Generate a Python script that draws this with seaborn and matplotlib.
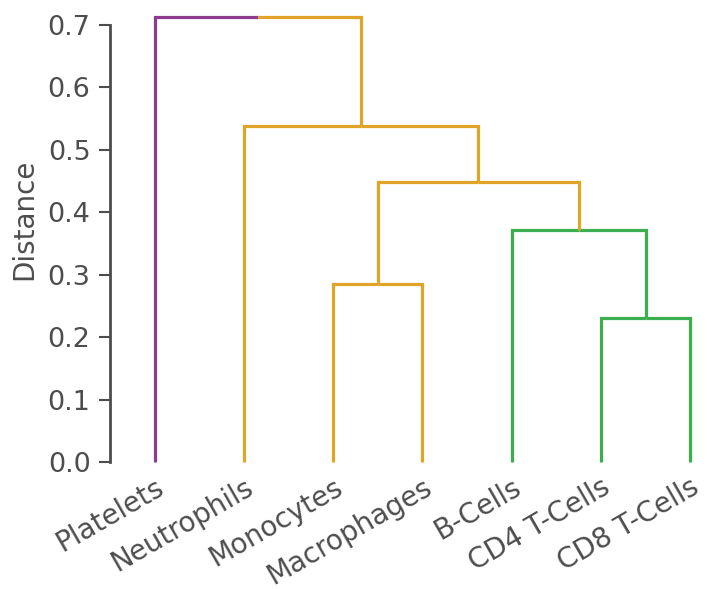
import numpy as np
import matplotlib
matplotlib.use("Agg")
import matplotlib.pyplot as plt
import seaborn as sns

sns.set_theme(style="ticks")
plt.rcParams["font.family"] = ["DejaVu Sans"]

# leaves in plotting order
leaves = ["Platelets", "Neutrophils", "Monocytes", "Macrophages",
          "B-Cells", "CD4 T-Cells", "CD8 T-Cells"]

# merges: new cluster ids start at len(leaves)
merge_left = [5, 4, 2, 9, 1, 0]
merge_right = [6, 7, 3, 8, 10, 11]
merge_height = [0.230, 0.372, 0.285, 0.449, 0.538, 0.712]

# branch colour for each node (leaf or cluster) going up to its parent
purple = "#8e3a8e"
orange = "#e0a526"
green = "#3dae4f"
branch_color = [purple, orange, orange, orange, green, green, green,
                green, orange, orange, orange, orange]

text_col = "#4d4d4d"

fig = plt.figure(figsize=(7.07, 5.89), dpi=100)
ax = fig.add_axes([110 / 707, 127 / 589, 598 / 707, 449.5 / 589])

n = len(leaves)
xpos = list(np.arange(n, dtype=float))
ypos = [0.0] * n
for l, r, h in zip(merge_left, merge_right, merge_height):
    cx = (xpos[l] + xpos[r]) / 2
    for c in (l, r):
        ax.plot([xpos[c], xpos[c], cx], [ypos[c], h, h],
                color=branch_color[c], lw=2.3, clip_on=False,
                solid_capstyle="butt", solid_joinstyle="miter")
    xpos.append(cx)
    ypos.append(h)

ax.set_xlim(-0.5, 6.2)
ax.set_ylim(0, 0.72)
ax.set_yticks(np.arange(0, 0.71, 0.1))
ax.set_xticks(range(n))
ax.set_xticklabels(leaves, rotation=30, ha="right", rotation_mode="anchor")

ax.tick_params(axis="y", labelsize=19.5, colors=text_col, length=8, width=1.5,
               labelcolor=text_col, pad=6)
ax.tick_params(axis="x", labelsize=20, length=0, labelcolor=text_col, pad=8)
ax.set_ylabel("Distance", fontsize=20, color=text_col)
ax.yaxis.set_label_coords(-0.12, 0.54)

sns.despine(ax=ax, bottom=True, trim=True)
ax.spines["left"].set_color(text_col)
ax.spines["left"].set_linewidth(2)

fig.savefig("out.png", dpi=100)
